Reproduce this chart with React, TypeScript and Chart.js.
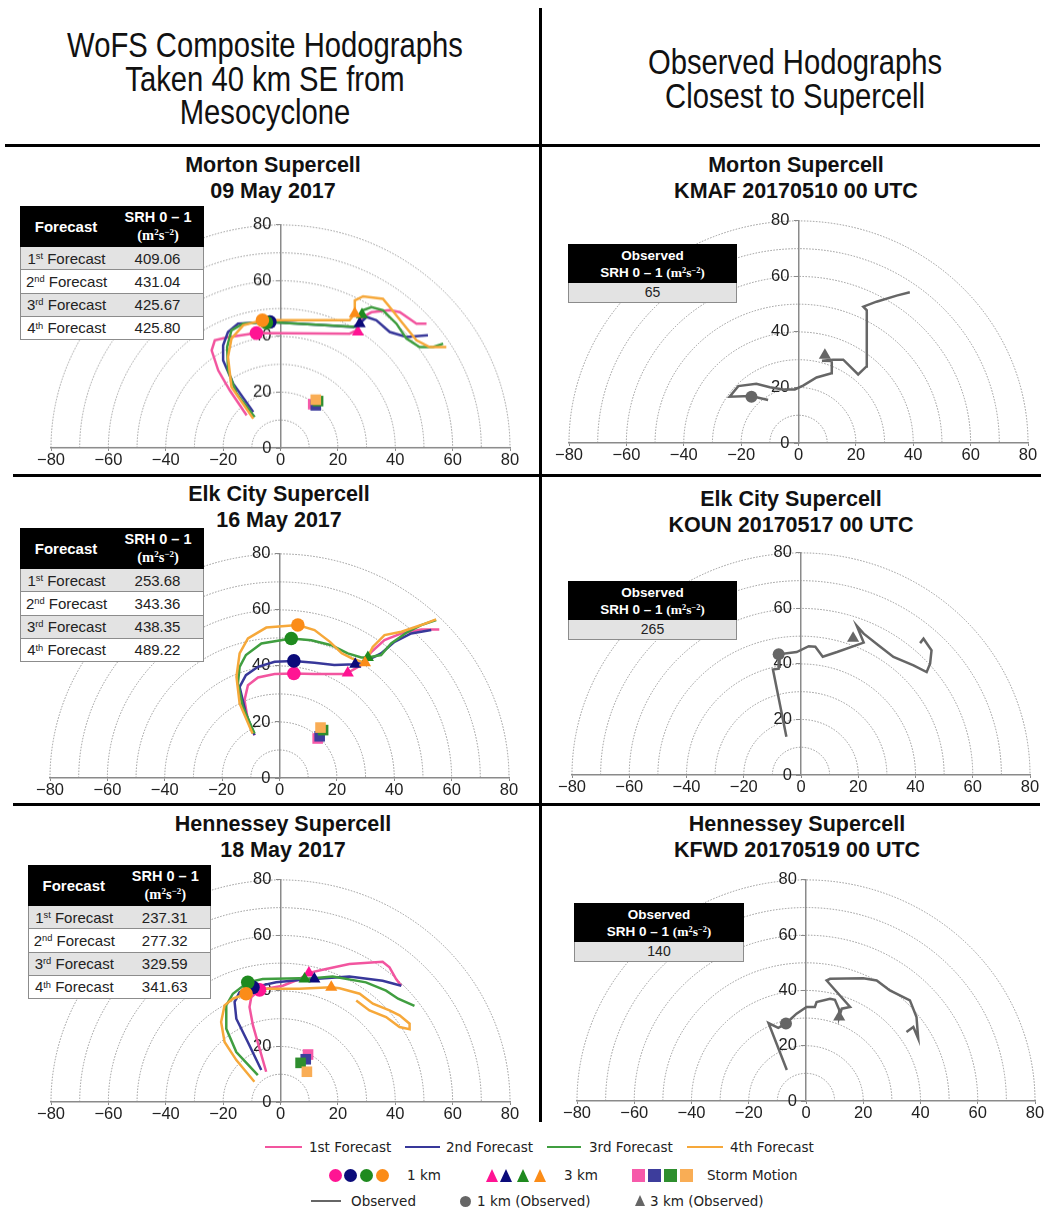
import React, { useEffect, useRef } from "react";
import { Chart, registerables } from "chart.js";
Chart.register(...registerables);

type Pt = [number, number];

// ---------------- axes / rings ----------------
const xTickValues = [-80, -60, -40, -20, 0, 20, 40, 60, 80];
const yTickValues = [0, 20, 40, 60, 80];
const ringRadii = [10, 20, 30, 40, 50, 60, 70, 80];

// ---------------- forecasts ----------------
const forecastOrdinals: [string, string][] = [["1", "st"], ["2", "nd"], ["3", "rd"], ["4", "th"]];
const lineColors = ["#f2559f", "#38389a", "#409e40", "#f6a83a"];
const markerColors = ["#ff1493", "#0b0b7a", "#1f8a1f", "#fb8c18"];
const stormColors = ["#f65aaa", "#3d3d9c", "#2e8e2e", "#f9ad55"];
const observedColor = "#666666";

// Morton Supercell 09 May 2017
const morton1st: Pt[] = [[-11.8, 11.7], [-17.7, 20.7], [-21.7, 27.8], [-24.0, 35.0], [-22.9, 38.6], [-18.8, 39.6], [-8.4, 41.2], [24.1, 41.0], [26.5, 42.2], [28.8, 47.0], [31.7, 48.7], [38.1, 49.4], [41.6, 48.7], [47.4, 44.6], [50.9, 44.6]];
const morton2nd: Pt[] = [[-9.5, 12.9], [-16.5, 23.1], [-20.0, 31.4], [-20.0, 36.8], [-18.3, 41.6], [-14.8, 44.6], [-3.7, 45.2], [25.3, 43.4], [27.6, 44.6], [30.0, 47.0], [33.4, 45.8], [38.1, 41.6], [43.9, 39.8], [51.4, 40.4]];
const morton3rd: Pt[] = [[-9.0, 11.1], [-15.3, 19.5], [-18.3, 27.8], [-18.6, 36.2], [-17.1, 42.2], [-13.0, 44.6], [-4.9, 45.2], [26.5, 43.4], [28.8, 49.4], [31.7, 50.5], [35.7, 49.4], [40.4, 44.6], [43.9, 39.2], [48.5, 36.2], [53.2, 36.2], [56.7, 37.4]];
const morton4th: Pt[] = [[-9.5, 10.5], [-17.1, 21.9], [-18.3, 32.6], [-17.1, 39.2], [-13.0, 44.0], [-6.3, 45.8], [24.1, 45.8], [25.9, 48.2], [25.9, 52.9], [28.8, 54.4], [35.7, 53.5], [38.1, 50.5], [42.7, 44.6], [47.4, 38.6], [52.0, 36.2], [57.8, 36.2]];
const morton1km: Pt[] = [[-8.4, 41.2], [-3.7, 45.2], [-4.9, 45.0], [-6.3, 45.8]];
const morton3km: Pt[] = [[27.0, 41.6], [27.6, 44.6], [28.4, 47.8], [25.9, 48.2]];
const mortonStorm: Pt[] = [[11.4, 15.7], [12.3, 15.3], [13.1, 16.8], [12.3, 17.3]];
const mortonSRH = ["409.06", "431.04", "425.67", "425.80"];

// Elk City Supercell 16 May 2017
const elk1st: Pt[] = [[-8.7, 15.3], [-11.0, 20.6], [-12.2, 27.8], [-11.0, 33.1], [-7.5, 35.9], [-1.7, 37.1], [5.0, 37.3], [12.2, 37.1], [22.6, 37.1], [23.8, 37.5], [28.5, 40.3], [32.0, 45.0], [36.6, 49.2], [42.5, 51.6], [49.4, 53.0], [55.7, 53.0]];
const elk2nd: Pt[] = [[-8.7, 15.3], [-11.7, 23.0], [-13.9, 32.5], [-11.7, 36.7], [-7.5, 39.7], [-1.7, 41.5], [5.0, 41.8], [12.2, 41.1], [19.1, 40.3], [26.4, 40.6], [30.8, 42.1], [35.4, 44.5], [40.1, 48.6], [45.9, 51.6], [52.9, 52.8]];
const elk3rd: Pt[] = [[-8.7, 15.9], [-12.8, 25.4], [-14.5, 33.8], [-13.9, 39.7], [-11.7, 43.9], [-6.3, 48.0], [4.1, 49.8], [11.1, 49.2], [18.1, 47.4], [23.8, 44.5], [28.5, 43.0], [30.8, 43.0], [35.4, 43.9], [38.9, 48.0], [44.7, 52.2], [49.4, 54.6], [54.6, 56.4]];
const elk4th: Pt[] = [[-9.4, 15.9], [-13.9, 26.6], [-15.0, 36.1], [-13.9, 44.5], [-11.0, 49.8], [-4.6, 53.7], [6.4, 54.6], [12.2, 52.8], [17.6, 48.6], [21.7, 44.5], [25.2, 42.7], [29.8, 41.1], [32.5, 46.8], [36.6, 51.0], [42.5, 52.2], [49.4, 54.6], [54.6, 56.6]];
const elk1km: Pt[] = [[5.0, 37.3], [5.0, 41.8], [4.1, 49.8], [6.4, 54.6]];
const elk3km: Pt[] = [[23.8, 37.5], [26.4, 40.6], [30.8, 43.0], [29.8, 41.1]];
const elkStorm: Pt[] = [[13.3, 14.1], [14.0, 14.9], [15.2, 17.1], [14.3, 18.0]];
const elkSRH = ["253.68", "343.36", "438.35", "489.22"];

// Hennessey Supercell 18 May 2017
const hen1st: Pt[] = [[-5.0, 10.9], [-7.3, 19.2], [-9.6, 27.6], [-10.8, 34.2], [-10.2, 37.7], [-7.3, 40.4], [0.8, 41.9], [6.6, 44.3], [9.9, 46.5], [15.9, 47.9], [24.0, 49.7], [35.6, 50.5], [38.0, 48.5], [40.3, 44.3], [42.1, 41.9]];
const hen2nd: Pt[] = [[-6.7, 11.5], [-11.4, 21.6], [-15.4, 30.0], [-16.0, 36.0], [-14.3, 39.5], [-9.6, 41.3], [-1.5, 43.1], [10.1, 44.3], [11.8, 44.3], [24.0, 45.2], [35.6, 43.7], [42.1, 41.9]];
const hen3rd: Pt[] = [[-7.9, 9.7], [-15.4, 18.0], [-18.9, 26.4], [-18.9, 34.8], [-16.6, 39.0], [-11.4, 43.1], [-6.2, 44.3], [6.6, 44.6], [8.4, 44.3], [18.2, 45.2], [29.8, 43.1], [36.8, 40.1], [41.0, 37.2], [46.7, 34.6]];
const hen4th: Pt[] = [[-9.1, 7.3], [-15.4, 15.1], [-19.5, 21.6], [-20.7, 28.8], [-19.5, 34.8], [-16.6, 37.2], [-12.0, 39.0], [-5.0, 40.8], [6.6, 40.8], [17.7, 41.3], [20.6, 41.0], [27.6, 39.0], [32.2, 35.4], [38.0, 33.0], [41.5, 31.2], [45.0, 28.2], [45.0, 26.2], [41.5, 27.0], [36.8, 30.6], [31.0, 33.0], [26.4, 36.6]];
const hen1km: Pt[] = [[-7.3, 40.4], [-9.6, 41.3], [-11.4, 43.1], [-12.0, 39.0]];
const hen3km: Pt[] = [[9.9, 46.5], [11.8, 44.3], [8.4, 44.3], [17.7, 41.3]];
const henStorm: Pt[] = [[9.6, 17.1], [8.8, 15.4], [7.0, 14.1], [9.2, 10.9]];
const henSRH = ["237.31", "277.32", "329.59", "341.63"];

// ---------------- observed ----------------
const kmafObs: Pt[] = [[-10.6, 15.5], [-16.5, 16.9], [-24.0, 16.7], [-21.0, 20.5], [-14.7, 21.3], [-10.0, 20.1], [-5.3, 19.3], [-1.3, 19.3], [1.6, 20.7], [6.3, 23.6], [11.5, 25.1], [11.6, 29.5], [8.2, 29.6], [12.0, 30.0], [15.6, 30.0], [20.8, 24.7], [23.7, 27.6], [23.8, 47.8], [22.6, 49.1], [27.2, 50.9], [34.2, 53.1], [38.8, 54.3]];
const kmaf1km: Pt = [-16.4, 16.7];
const kmaf3km: Pt = [9.2, 31.6];
const kmafSRH = "65";

const kounObs: Pt[] = [[-5.1, 13.8], [-9.8, 38.0], [-7.8, 38.3], [-7.8, 43.5], [-1.5, 44.3], [2.7, 46.4], [5.0, 46.2], [7.6, 42.6], [12.6, 44.3], [21.9, 47.7], [19.5, 53.7], [21.9, 50.9], [27.7, 46.2], [32.3, 42.5], [39.3, 39.5], [43.9, 37.1], [45.1, 40.1], [45.6, 44.9], [42.8, 49.1], [41.6, 47.5]];
const koun1km: Pt = [-7.8, 43.5];
const koun3km: Pt = [18.2, 49.3];
const kounSRH = "265";

const kfwdObs: Pt[] = [[-6.7, 11.2], [-13.1, 28.2], [-9.7, 26.5], [-7.0, 28.0], [-5.6, 29.4], [-3.3, 31.6], [0.2, 34.0], [3.1, 34.0], [3.7, 35.8], [8.4, 37.0], [10.1, 36.6], [11.6, 33.0], [11.6, 30.4], [12.5, 33.4], [15.4, 34.0], [7.2, 43.6], [8.4, 44.2], [20.0, 44.4], [24.7, 43.6], [29.3, 40.0], [36.3, 36.4], [38.6, 30.4], [39.2, 22.6], [37.5, 26.8], [35.1, 25.0]];
const kfwd1km: Pt = [-7.0, 28.0];
const kfwd3km: Pt = [11.6, 30.4];
const kfwdSRH = "140";

// ---------------- layout ----------------
const FONT = '"Liberation Sans", Arial, Helvetica, sans-serif';
const LEGEND_FONT = '"DejaVu Sans", Verdana, sans-serif';
Chart.defaults.font.family = FONT;

type Box = { xMin: number; xMax: number; yTop: number; yBot: number };
const PADX = 25;
const PADT = 12;
const AXH = 26;

const xy = (p: Pt) => ({ x: p[0], y: p[1] });
const fmtTick = (v: number) => (v < 0 ? "\u2212" + Math.abs(v) : String(v));

const ringsPlugin = {
  id: "rings",
  beforeDraw(chart: any) {
    const { ctx, scales } = chart;
    const x = scales.x;
    const y = scales.y;
    const cx = x.getPixelForValue(0);
    const cy = y.getPixelForValue(0);
    ctx.save();
    ctx.strokeStyle = "#969696";
    ctx.lineWidth = 1;
    ctx.setLineDash([1.5, 1.5]);
    for (const r of ringRadii) {
      const rx = x.getPixelForValue(r) - cx;
      const ry = cy - y.getPixelForValue(r);
      ctx.beginPath();
      ctx.ellipse(cx, cy, rx, ry, 0, Math.PI, 2 * Math.PI);
      ctx.stroke();
    }
    ctx.restore();
  },
};

function forecastDatasets(lines: Pt[][], km1: Pt[], km3: Pt[], storm: Pt[]) {
  const ds: any[] = [];
  lines.forEach((l, i) =>
    ds.push({ data: l.map(xy), showLine: true, borderColor: lineColors[i], borderWidth: 2.5, pointRadius: 0, order: 20 - i })
  );
  storm.forEach((p, i) =>
    ds.push({ data: [xy(p)], pointStyle: "rect", pointRadius: 7.5, backgroundColor: stormColors[i], borderWidth: 0, order: 15 - i })
  );
  km3.forEach((p, i) =>
    ds.push({ data: [xy(p)], pointStyle: "triangle", pointRadius: 7, backgroundColor: markerColors[i], borderWidth: 0, order: 10 - i })
  );
  km1.forEach((p, i) =>
    ds.push({ data: [xy(p)], pointStyle: "circle", pointRadius: 6.8, backgroundColor: markerColors[i], borderWidth: 0, order: 5 - i })
  );
  return ds;
}

function observedDatasets(line: Pt[], km1: Pt, km3: Pt) {
  return [
    { data: line.map(xy), showLine: true, borderColor: observedColor, borderWidth: 2.5, pointRadius: 0, order: 5 },
    { data: [xy(km3)], pointStyle: "triangle", pointRadius: 7, backgroundColor: observedColor, borderWidth: 0, order: 2 },
    { data: [xy(km1)], pointStyle: "circle", pointRadius: 6, backgroundColor: observedColor, borderWidth: 0, order: 1 },
  ];
}

function Hodograph({ box, datasets }: { box: Box; datasets: any[] }) {
  const ref = useRef<HTMLCanvasElement>(null);
  const W = box.xMax - box.xMin + 2 * PADX;
  const H = box.yBot - box.yTop + PADT + AXH;
  useEffect(() => {
    const chart = new Chart(ref.current as HTMLCanvasElement, {
      type: "scatter",
      data: { datasets },
      options: {
        responsive: false,
        animation: false,
        devicePixelRatio: 1,
        layout: { padding: { left: PADX, right: PADX, top: PADT, bottom: 0 } },
        plugins: { legend: { display: false }, tooltip: { enabled: false } },
        scales: {
          x: {
            type: "linear",
            min: -80,
            max: 80,
            position: "bottom",
            afterBuildTicks: (s: any) => {
              s.ticks = xTickValues.map((v) => ({ value: v }));
            },
            afterFit: (s: any) => {
              s.height = AXH;
            },
            ticks: { autoSkip: false, maxRotation: 0, font: { size: 16.5 }, color: "#222", padding: 0, callback: (v: any) => fmtTick(Number(v)) },
            grid: { drawOnChartArea: false, drawTicks: true, tickLength: 3, color: "#8a8a8a", lineWidth: 1 },
            border: { display: true, color: "#8a8a8a", width: 1.5 },
          },
          y: {
            type: "linear",
            min: 0,
            max: 80,
            position: { x: 0 },
            afterBuildTicks: (s: any) => {
              s.ticks = yTickValues.map((v) => ({ value: v }));
            },
            ticks: { font: { size: 16.5 }, color: "#222", callback: (v: any) => fmtTick(Number(v)) + "  " },
            grid: { drawOnChartArea: false, drawTicks: true, tickLength: 4, color: "#8a8a8a", lineWidth: 1 },
            border: { display: true, color: "#8a8a8a", width: 1.5 },
          },
        },
      } as any,
      plugins: [ringsPlugin],
    });
    return () => chart.destroy();
  }, []);
  return (
    <canvas
      ref={ref}
      width={W}
      height={H}
      style={{ position: "absolute", left: box.xMin - PADX, top: box.yTop - PADT, width: W, height: H }}
    />
  );
}

function Sup({ children }: { children: React.ReactNode }) {
  return <span style={{ fontSize: "0.62em", position: "relative", top: "-0.5em" }}>{children}</span>;
}

function Units() {
  return (
    <span style={{ fontFamily: '"Liberation Serif", "DejaVu Serif", serif', fontWeight: "bold" }}>
      (m<Sup>2</Sup>s<Sup>{"\u22122"}</Sup>)
    </span>
  );
}

function ForecastTable({ left, top, width, values }: { left: number; top: number; width: number; values: string[] }) {
  const half = width / 2;
  return (
    <div style={{ position: "absolute", left, top, width, fontFamily: FONT }}>
      <div style={{ height: 41, background: "#000", color: "#fff", display: "flex", alignItems: "center", fontWeight: "bold" }}>
        <div style={{ width: half, textAlign: "center", fontSize: 15 }}>Forecast</div>
        <div style={{ width: half, textAlign: "center", fontSize: 14.5, lineHeight: "18px" }}>
          SRH 0 – 1
          <br />
          <Units />
        </div>
      </div>
      {values.map((v, i) => (
        <div
          key={i}
          style={{
            height: 23.25,
            boxSizing: "border-box",
            borderLeft: "1.5px solid #8c8c8c",
            borderRight: "1.5px solid #8c8c8c",
            borderBottom: "1.5px solid #8c8c8c",
            background: i % 2 === 0 ? "#e3e3e3" : "#ffffff",
            display: "flex",
            alignItems: "center",
            fontSize: 15,
            color: "#222",
          }}
        >
          <div style={{ width: half, textAlign: "center", whiteSpace: "nowrap" }}>
            {forecastOrdinals[i][0]}
            <Sup>{forecastOrdinals[i][1]}</Sup> Forecast
          </div>
          <div style={{ width: half, textAlign: "center" }}>{v}</div>
        </div>
      ))}
    </div>
  );
}

function ObservedTable({ left, top, width, value }: { left: number; top: number; width: number; value: string }) {
  return (
    <div style={{ position: "absolute", left, top, width, fontFamily: FONT }}>
      <div style={{ height: 39, background: "#000", color: "#fff", fontWeight: "bold", fontSize: 13.5, lineHeight: "17px", textAlign: "center", paddingTop: 3, boxSizing: "border-box" }}>
        Observed
        <br />
        SRH 0 – 1 <Units />
      </div>
      <div
        style={{
          height: 20,
          boxSizing: "border-box",
          border: "1.5px solid #8c8c8c",
          borderTop: "none",
          background: "#e3e3e3",
          textAlign: "center",
          fontSize: 14,
          lineHeight: "18px",
          color: "#222",
        }}
      >
        {value}
      </div>
    </div>
  );
}

function Title({ cx, cy, lines }: { cx: number; cy: number; lines: string[] }) {
  return (
    <div
      style={{
        position: "absolute",
        left: cx - 250,
        width: 500,
        top: cy - 13,
        textAlign: "center",
        fontFamily: FONT,
        fontWeight: "bold",
        fontSize: 21.5,
        lineHeight: "26px",
        color: "#111",
        whiteSpace: "nowrap",
      }}
    >
      {lines[0]}
      <br />
      {lines[1]}
    </div>
  );
}

function HeaderText({ cx, top, lines }: { cx: number; top: number; lines: string[] }) {
  return (
    <div
      style={{
        position: "absolute",
        left: cx - 300,
        width: 600,
        top,
        textAlign: "center",
        fontFamily: FONT,
        fontSize: 35,
        lineHeight: "33.5px",
        color: "#111",
        whiteSpace: "nowrap",
        transform: "scaleX(0.835)",
        transformOrigin: "50% 50%",
      }}
    >
      {lines.map((l, i) => (
        <div key={i}>{l}</div>
      ))}
    </div>
  );
}

function LegendText({ x, y, text }: { x: number; y: number; text: string }) {
  return (
    <div style={{ position: "absolute", left: x, top: y - 9, fontFamily: LEGEND_FONT, fontSize: 13.5, lineHeight: "18px", color: "#222", whiteSpace: "nowrap" }}>
      {text}
    </div>
  );
}

function Seg({ x1, x2, y, color }: { x1: number; x2: number; y: number; color: string }) {
  return <div style={{ position: "absolute", left: x1, top: y - 1.25, width: x2 - x1, height: 2.5, background: color }} />;
}

function Dot({ cx, cy, d, color }: { cx: number; cy: number; d: number; color: string }) {
  return <div style={{ position: "absolute", left: cx - d / 2, top: cy - d / 2, width: d, height: d, borderRadius: "50%", background: color }} />;
}

function Tri({ cx, cy, w, h, color }: { cx: number; cy: number; w: number; h: number; color: string }) {
  return (
    <div
      style={{
        position: "absolute",
        left: cx - w / 2,
        top: cy - h / 2,
        width: 0,
        height: 0,
        borderLeft: `${w / 2}px solid transparent`,
        borderRight: `${w / 2}px solid transparent`,
        borderBottom: `${h}px solid ${color}`,
      }}
    />
  );
}

function Sq({ cx, cy, s, color }: { cx: number; cy: number; s: number; color: string }) {
  return <div style={{ position: "absolute", left: cx - s / 2, top: cy - s / 2, width: s, height: s, background: color }} />;
}

const legendLineLabels = ["1st Forecast", "2nd Forecast", "3rd Forecast", "4th Forecast"];

export default function App() {
  const boxes: Box[] = [
    { xMin: 51, xMax: 510, yTop: 224, yBot: 447.5 },
    { xMin: 569, xMax: 1028, yTop: 220, yBot: 443 },
    { xMin: 50, xMax: 509, yTop: 552.5, yBot: 777.5 },
    { xMin: 572, xMax: 1030, yTop: 552, yBot: 775 },
    { xMin: 51, xMax: 510, yTop: 879, yBot: 1102 },
    { xMin: 577, xMax: 1035, yTop: 879, yBot: 1101 },
  ];
  const legendLineX = [[265, 302, 309], [405, 440, 446], [547, 581, 589], [687, 723, 730]];
  return (
    <div style={{ position: "absolute", left: 0, top: 0, width: 1045, height: 1211, background: "#fff", overflow: "hidden" }}>
      {/* header */}
      <HeaderText cx={265} top={28} lines={["WoFS Composite Hodographs", "Taken 40 km SE from", "Mesocyclone"]} />
      <HeaderText cx={795} top={45} lines={["Observed Hodographs", "Closest to Supercell"]} />

      {/* separators */}
      <div style={{ position: "absolute", left: 5, top: 144, width: 1035, height: 3, background: "#000" }} />
      <div style={{ position: "absolute", left: 13, top: 474, width: 1028, height: 3, background: "#000" }} />
      <div style={{ position: "absolute", left: 13, top: 803, width: 1027, height: 3, background: "#000" }} />
      <div style={{ position: "absolute", left: 539, top: 8, width: 3, height: 1114, background: "#000" }} />

      {/* charts */}
      <Hodograph box={boxes[0]} datasets={forecastDatasets([morton1st, morton2nd, morton3rd, morton4th], morton1km, morton3km, mortonStorm)} />
      <Hodograph box={boxes[1]} datasets={observedDatasets(kmafObs, kmaf1km, kmaf3km)} />
      <Hodograph box={boxes[2]} datasets={forecastDatasets([elk1st, elk2nd, elk3rd, elk4th], elk1km, elk3km, elkStorm)} />
      <Hodograph box={boxes[3]} datasets={observedDatasets(kounObs, koun1km, koun3km)} />
      <Hodograph box={boxes[4]} datasets={forecastDatasets([hen1st, hen2nd, hen3rd, hen4th], hen1km, hen3km, henStorm)} />
      <Hodograph box={boxes[5]} datasets={observedDatasets(kfwdObs, kfwd1km, kfwd3km)} />

      {/* titles */}
      <Title cx={273} cy={165} lines={["Morton Supercell", "09 May 2017"]} />
      <Title cx={796} cy={165} lines={["Morton Supercell", "KMAF 20170510 00 UTC"]} />
      <Title cx={279} cy={494} lines={["Elk City Supercell", "16 May 2017"]} />
      <Title cx={791} cy={499} lines={["Elk City Supercell", "KOUN 20170517 00 UTC"]} />
      <Title cx={283} cy={824} lines={["Hennessey Supercell", "18 May 2017"]} />
      <Title cx={797} cy={824} lines={["Hennessey Supercell", "KFWD 20170519 00 UTC"]} />

      {/* tables */}
      <ForecastTable left={20} top={206} width={184} values={mortonSRH} />
      <ForecastTable left={20} top={528} width={184} values={elkSRH} />
      <ForecastTable left={28} top={865} width={183} values={henSRH} />
      <ObservedTable left={568} top={244} width={169} value={kmafSRH} />
      <ObservedTable left={568} top={581} width={169} value={kounSRH} />
      <ObservedTable left={574} top={903} width={170} value={kfwdSRH} />

      {/* legend */}
      {legendLineX.map((lx, i) => (
        <React.Fragment key={i}>
          <Seg x1={lx[0]} x2={lx[1]} y={1147} color={lineColors[i]} />
          <LegendText x={lx[2]} y={1147} text={legendLineLabels[i]} />
        </React.Fragment>
      ))}
      {[335, 350, 366, 382].map((cx, i) => (
        <Dot key={"d" + i} cx={cx} cy={1175} d={13} color={markerColors[i]} />
      ))}
      <LegendText x={407} y={1175} text="1 km" />
      {[492, 506, 523, 540].map((cx, i) => (
        <Tri key={"t" + i} cx={cx} cy={1175} w={12} h={13} color={markerColors[i]} />
      ))}
      <LegendText x={564} y={1175} text="3 km" />
      {[638, 654, 670, 686].map((cx, i) => (
        <Sq key={"s" + i} cx={cx} cy={1175} s={13} color={stormColors[i]} />
      ))}
      <LegendText x={707} y={1175} text="Storm Motion" />
      <Seg x1={311} x2={341} y={1201} color={observedColor} />
      <LegendText x={351} y={1201} text="Observed" />
      <Dot cx={465} cy={1201} d={11} color={observedColor} />
      <LegendText x={477} y={1201} text="1 km (Observed)" />
      <Tri cx={640} cy={1200} w={11} h={11} color={observedColor} />
      <LegendText x={650} y={1201} text="3 km (Observed)" />
    </div>
  );
}
